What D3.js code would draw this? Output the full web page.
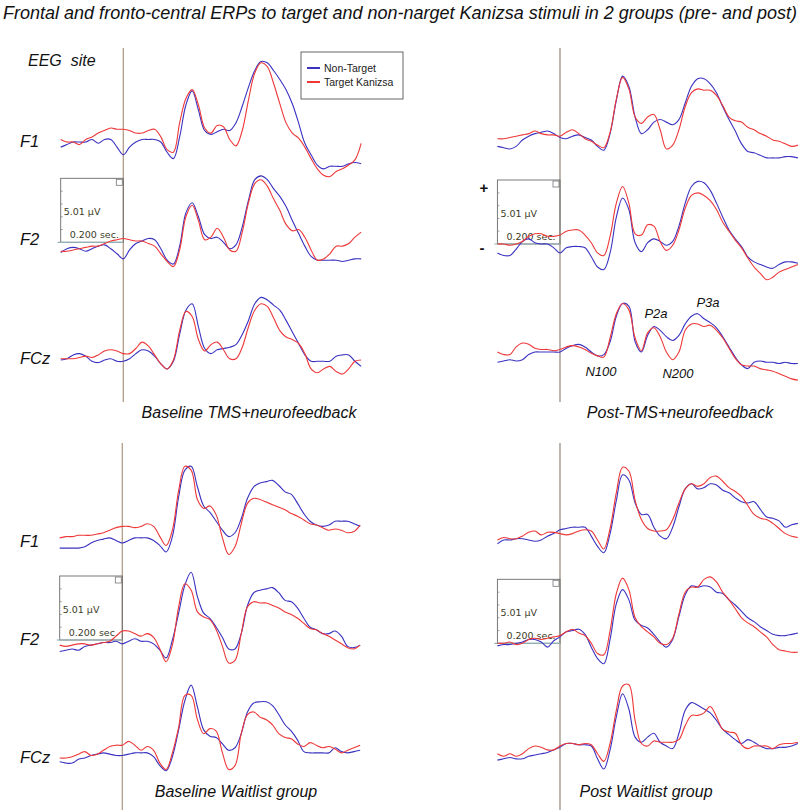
<!DOCTYPE html>
<html>
<head>
<meta charset="utf-8">
<script src="https://cdn.jsdelivr.net/npm/d3@7"></script>
<style>
  body { margin: 0; background: #fff; }
  text { font-family: "Liberation Sans", Arial, sans-serif; }
</style>
</head>
<body>
<div id="chart"></div>
<script>
// ---- data: time (ms) and amplitudes (µV) ----
var times = [-200,-180,-160,-140,-120,-100,-80,-60,-40,-20,0,20,40,60,80,100,120,140,160,180,200,220,240,260,280,300,320,340,360,380,400,420,440,460,480,500,520,540,560,580,600,620,640,660,680,700,720,740,760];

var channels = ["F1", "F2", "FCz"];
var seriesNames = ["Non-Target", "Target Kanizsa"];
var panelTitles = ["Baseline TMS+neurofeedback", "Post-TMS+neurofeedback", "Baseline Waitlist group", "Post Waitlist group"];
var componentLabels = ["N100", "P2a", "N200", "P3a"];

// Baseline TMS+neurofeedback
var tmsPreF1Non  = [-0.3,-0.1,0.1,0.1,0.1,0.3,0.0,0.3,0.3,-0.3,-0.9,-0.3,0.1,0.3,0.3,0.3,0.1,-0.7,-1.2,0.5,3.0,4.1,2.6,1.0,0.7,0.9,1.1,1.0,1.6,2.9,4.4,5.7,6.4,6.3,5.7,5.0,4.2,3.1,1.6,0.0,-0.9,-1.7,-2.0,-1.8,-1.8,-1.8,-1.6,-1.5,-1.6];
var tmsPreF1Tgt  = [0.3,0.1,0.1,-0.1,0.3,0.5,0.8,1.0,1.2,1.1,1.1,1.0,0.8,0.8,1.0,1.1,0.5,-0.5,-0.7,1.6,3.5,4.2,3.0,1.2,0.8,1.4,1.3,0.3,-0.2,1.0,3.4,5.5,6.3,6.0,4.7,3.1,1.6,0.8,0.4,-0.3,-1.2,-2.0,-2.5,-2.6,-2.2,-2.0,-1.7,-1.3,0.0];
var tmsPreF2Non  = [-0.8,-0.5,-0.4,-0.5,-0.7,-0.5,-0.3,-0.2,-0.5,-0.9,-1.3,-0.6,-0.1,0.1,0.3,0.2,-0.5,-1.4,-1.7,-0.3,2.3,3.1,2.0,0.6,0.3,0.4,0.0,-0.5,-0.2,1.2,3.3,4.9,5.2,4.9,4.2,3.6,2.8,1.7,0.7,-0.3,-1.1,-1.4,-1.4,-1.4,-1.4,-1.5,-1.4,-1.3,-1.3];
var tmsPreF2Tgt  = [-0.7,-0.7,-0.6,-0.5,-0.4,-0.3,-0.3,-0.1,0.1,0.2,0.3,0.2,0.1,0.1,-0.1,-0.3,-0.9,-1.5,-1.9,-0.6,2.0,2.9,1.7,0.2,0.4,1.1,0.4,-0.6,-0.7,0.8,3.1,4.6,4.9,4.4,3.4,2.5,1.4,0.9,1.0,0.4,-0.6,-1.4,-1.3,-0.9,-0.3,-0.3,-0.1,0.4,0.8];
var tmsPreFCzNon = [0.0,0.1,0.4,0.5,0.3,-0.1,-0.2,0.0,0.1,-0.1,-0.1,0.1,0.5,0.8,0.7,0.3,-0.3,-0.7,-0.1,2.0,3.9,4.4,2.6,0.9,0.5,0.8,0.9,1.0,1.2,2.0,3.1,4.4,4.9,4.7,4.3,3.9,3.1,2.2,1.3,0.4,-0.1,-0.1,-0.1,-0.1,0.3,0.4,0.4,-0.1,-0.5];
var tmsPreFCzTgt = [0.1,0.1,0.1,0.2,0.3,0.2,0.4,0.7,0.8,0.7,0.5,0.5,0.9,1.4,1.1,0.4,-0.3,-0.7,0.0,2.3,3.8,3.4,1.6,0.7,1.2,1.4,0.8,0.1,0.1,1.0,2.6,3.9,4.4,4.2,3.3,2.3,1.8,1.6,1.3,0.5,-0.7,-1.0,-0.7,-0.5,-0.9,-1.1,-0.7,-0.1,0.0];

// Post-TMS+neurofeedback
var tmsPostF1Non  = [-0.5,-0.6,-0.7,-0.5,0.0,0.3,0.5,0.6,0.7,0.5,0.2,0.1,0.3,0.4,0.2,0.0,-0.5,-0.8,0.5,3.1,5.0,4.2,1.8,0.5,0.8,1.4,1.6,1.4,1.2,1.6,2.9,4.2,4.8,4.8,4.4,3.7,2.6,1.6,0.7,-0.3,-0.9,-1.0,-1.2,-1.4,-1.4,-1.4,-1.3,-1.3,-1.4];
var tmsPostF1Tgt  = [0.1,0.1,0.2,0.3,0.4,0.5,0.7,0.5,0.4,0.4,0.3,0.6,0.8,0.5,0.1,-0.1,-0.4,-0.6,0.6,3.2,4.9,4.0,1.8,1.3,1.8,2.0,0.8,-0.7,-0.4,0.8,2.6,3.7,4.0,3.9,3.9,3.5,2.7,1.8,1.5,1.4,1.0,0.8,0.5,0.3,0.0,-0.1,-0.3,-0.5,-0.4];
var tmsPostF2Non  = [-0.7,-0.9,-0.9,-0.4,0.2,0.4,0.1,0.0,0.0,-0.3,-0.7,-0.3,-0.2,-0.2,-0.3,-1.0,-1.8,-2.0,-0.7,2.1,3.6,2.7,0.1,-0.6,0.1,0.4,0.2,-0.1,0.2,1.4,3.2,4.5,4.9,4.8,4.2,3.2,2.1,1.1,0.4,-0.2,-1.0,-1.4,-1.6,-1.8,-1.9,-1.6,-1.4,-1.4,-1.5];
var tmsPostF2Tgt  = [0.0,0.0,-0.1,0.0,0.2,0.6,0.8,0.8,0.6,0.6,0.7,1.0,1.1,1.1,0.7,0.1,-0.7,-0.9,0.6,3.2,4.5,3.2,0.8,0.7,1.5,1.4,0.2,-0.5,-0.1,1.1,2.8,3.8,4.0,3.8,3.4,2.7,1.7,1.0,0.3,-0.3,-1.1,-1.8,-2.3,-2.8,-2.6,-2.2,-2.0,-1.8,-1.6];
var tmsPostFCzNon = [-0.7,-0.6,-0.5,-0.6,-0.5,-0.1,0.1,0.1,0.1,0.1,0.1,0.4,0.6,0.7,0.5,0.1,-0.2,-0.1,0.9,2.9,3.9,3.7,0.9,0.1,1.4,2.1,1.8,1.3,1.0,1.4,2.3,2.9,3.1,2.7,2.4,2.0,1.3,0.5,-0.3,-0.9,-1.2,-0.7,-0.6,-0.7,-0.7,-0.8,-0.7,-0.8,-0.8];
var tmsPostFCzTgt = [0.1,-0.1,-0.1,0.5,0.8,0.7,0.4,0.3,0.3,0.2,0.3,0.5,0.6,0.5,0.3,0.0,-0.2,-0.3,1.2,3.1,3.9,3.4,1.2,0.2,1.6,2.0,1.3,0.1,-0.5,0.1,1.8,2.3,2.3,2.1,2.2,1.8,1.2,0.4,-0.4,-0.9,-1.0,-1.0,-1.2,-1.3,-1.4,-1.6,-1.8,-2.0,-2.1];

// Baseline Waitlist group
var waitPreF1Non  = [-0.5,-0.5,-0.5,-0.5,-0.4,-0.1,0.1,0.2,0.3,0.1,-0.1,0.1,0.3,0.3,0.3,0.1,-0.3,-0.8,0.4,3.5,5.6,5.9,4.3,2.8,2.3,1.6,0.9,0.4,0.7,1.8,3.4,4.3,4.6,4.7,4.8,4.4,3.9,3.7,3.0,2.2,1.6,1.3,1.2,1.3,1.6,1.6,1.6,1.4,1.2];
var waitPreF1Tgt  = [0.3,0.4,0.4,0.5,0.5,0.5,0.6,0.7,0.9,1.1,1.2,1.2,1.1,1.2,1.4,1.2,0.4,-0.3,0.9,4.0,5.9,5.6,3.3,2.6,2.8,2.1,0.3,-1.0,-0.4,1.4,3.0,3.4,3.3,3.1,2.9,2.7,2.5,2.2,2.0,1.7,1.4,1.3,1.1,0.9,1.0,0.9,0.7,0.8,1.3];
var waitPreF2Non  = [-0.9,-0.8,-0.7,-0.8,-0.5,-0.4,-0.3,-0.2,-0.2,-0.1,-0.3,-0.1,0.1,-0.1,-0.1,-0.3,-0.8,-1.4,0.0,2.1,4.3,5.3,3.4,2.1,1.7,1.0,0.2,-0.7,-0.7,0.5,2.7,3.7,3.9,4.0,4.1,3.7,3.1,3.0,2.5,1.7,1.0,0.8,0.5,0.5,0.7,0.3,-0.5,-0.6,-0.4];
var waitPreF2Tgt  = [-0.4,-0.5,-0.4,-0.3,-0.3,-0.4,-0.3,-0.2,-0.1,0.3,0.7,0.7,0.5,0.3,0.5,0.2,-0.7,-1.7,-0.4,2.6,4.4,3.9,2.2,1.8,1.6,0.8,-0.5,-1.8,-1.6,0.5,2.6,3.0,2.9,2.9,2.7,2.5,2.2,2.0,1.7,1.3,0.9,0.8,0.5,0.3,0.0,-0.3,-0.6,-0.7,-0.4];
var waitPreFCzNon = [-0.4,-0.5,-0.5,-0.2,-0.1,0.1,0.2,0.3,0.2,0.1,0.1,0.2,0.3,0.3,0.3,0.0,-0.7,-1.1,0.0,2.1,4.4,5.6,3.9,2.1,1.6,1.5,1.0,0.5,0.7,1.8,3.5,4.2,4.3,4.3,4.0,3.3,2.5,2.0,1.3,0.4,0.3,0.3,0.3,0.3,0.7,0.4,0.3,0.4,0.5];
var waitPreFCzTgt = [-0.1,-0.1,0.0,0.2,0.4,0.1,0.2,0.5,0.8,0.9,0.9,1.2,0.9,0.5,0.8,0.5,-0.5,-1.0,0.3,2.3,4.8,4.8,2.9,1.8,2.2,2.0,0.3,-1.0,-0.7,1.8,3.3,3.5,3.1,2.9,2.5,1.8,1.5,1.4,1.0,0.8,1.1,0.9,0.7,0.8,0.6,0.3,0.5,0.7,0.9];

// Post Waitlist group
var waitPostF1Non  = [-0.3,0.0,0.0,0.1,0.1,0.0,-0.1,0.0,0.3,0.5,0.8,0.9,1.0,1.0,1.0,0.3,-0.5,-1.0,0.5,3.1,5.1,4.7,2.9,2.0,2.0,1.0,0.3,0.1,1.0,2.6,4.0,4.4,4.0,4.1,4.4,4.3,3.9,3.7,3.3,3.0,2.9,3.0,2.4,1.8,1.7,1.5,1.0,1.2,1.3];
var waitPostF1Tgt  = [0.0,0.2,0.1,0.1,0.3,0.6,0.7,0.4,0.6,0.6,0.5,0.4,0.5,0.7,0.8,0.7,0.0,-0.7,0.9,3.7,5.7,5.4,3.1,1.6,0.9,0.7,0.7,0.8,1.6,2.9,4.0,4.4,4.2,4.4,4.9,5.0,4.6,4.1,3.8,3.4,2.7,2.0,1.7,1.6,1.3,0.9,0.5,0.3,0.2];
var waitPostF2Non  = [-0.2,-0.1,-0.1,0.0,0.1,0.3,0.3,0.1,-0.3,0.2,0.5,0.9,1.0,1.1,0.7,-0.3,-1.2,-1.6,0.3,3.1,4.2,3.4,1.8,1.4,1.2,0.7,0.1,-0.3,0.3,2.1,3.8,4.5,4.4,4.5,4.4,4.0,3.9,3.4,3.0,2.5,2.0,1.7,1.3,1.0,0.7,0.6,0.6,0.7,0.8];
var waitPostF2Tgt  = [0.0,0.0,0.1,-0.1,0.0,0.3,0.4,0.3,0.4,0.5,0.6,0.9,1.1,0.8,0.6,0.0,-0.8,-0.9,1.0,3.9,5.1,4.2,2.0,1.3,0.9,0.5,0.0,-0.1,0.4,2.3,4.0,4.4,4.4,5.0,5.2,4.8,4.0,3.4,2.7,2.0,1.6,1.3,0.9,0.5,-0.1,-0.5,-0.6,-0.7,-0.7];
var waitPostFCzNon = [-0.4,-0.3,-0.2,-0.3,-0.3,-0.1,0.0,0.1,0.2,0.4,0.6,0.9,0.9,0.8,0.8,0.7,-0.3,-1.1,0.4,3.0,4.8,3.6,1.4,1.0,1.4,1.7,1.0,0.7,0.5,1.7,3.5,4.1,3.9,3.6,3.3,2.7,2.0,1.6,1.2,0.9,1.2,1.0,0.7,0.5,0.5,0.6,0.6,0.7,0.9];
var waitPostFCzTgt = [0.1,-0.1,0.1,-0.1,0.1,0.5,0.7,0.6,0.4,0.4,0.7,0.9,0.9,0.8,0.9,0.8,0.1,-0.5,0.9,3.5,5.4,5.5,2.7,0.9,0.7,1.1,1.0,1.0,1.0,1.2,2.3,3.1,3.1,3.3,3.8,3.0,2.0,1.8,1.7,0.8,0.5,0.7,0.7,0.7,0.5,0.8,0.9,0.9,1.0];

// ---- layout ----
var width = 800, height = 810;
var pxPerMs = 0.313;      // 0.200 sec = ~62.6 px
var pxPerUv = 64 / 5.01;  // 5.01 µV = 64 px
var colors = ["#3a32c0", "#ee3838"];

var panels = [
  { onset: 123.3, bases: [143.3, 242.3, 360.0], lineY: [48, 402], lineColor: "#b29c86",
    data: [[tmsPreF1Non, tmsPreF1Tgt], [tmsPreF2Non, tmsPreF2Tgt], [tmsPreFCzNon, tmsPreFCzTgt]],
    title: panelTitles[0], titleX: 249, titleY: 418 },
  { onset: 560.0, bases: [140.0, 244.0, 353.3], lineY: [48, 402], lineColor: "#9a9086",
    data: [[tmsPostF1Non, tmsPostF1Tgt], [tmsPostF2Non, tmsPostF2Tgt], [tmsPostFCzNon, tmsPostFCzTgt]],
    title: panelTitles[1], titleX: 680, titleY: 418 },
  { onset: 122.3, bases: [541.7, 640.0, 756.7], lineY: [443, 810], lineColor: "#b29c86",
    data: [[waitPreF1Non, waitPreF1Tgt], [waitPreF2Non, waitPreF2Tgt], [waitPreFCzNon, waitPreFCzTgt]],
    title: panelTitles[2], titleX: 236, titleY: 797 },
  { onset: 560.0, bases: [540.0, 643.3, 755.0], lineY: [443, 810], lineColor: "#9a9086",
    data: [[waitPostF1Non, waitPostF1Tgt], [waitPostF2Non, waitPostF2Tgt], [waitPostFCzNon, waitPostFCzTgt]],
    title: panelTitles[3], titleX: 646, titleY: 797 }
];

var svg = d3.select("#chart").append("svg")
    .attr("width", width)
    .attr("height", height);

// title
svg.append("text")
    .attr("x", 400).attr("y", 19)
    .attr("text-anchor", "middle")
    .attr("textLength", 794).attr("lengthAdjust", "spacingAndGlyphs")
    .style("font-size", "17.5px").style("font-style", "italic")
    .attr("fill", "#111")
    .text("Frontal and fronto-central ERPs to target and non-narget Kanizsa stimuli in 2 groups (pre- and post)");

svg.append("text")
    .attr("x", 28).attr("y", 66)
    .style("font-size", "16px").style("font-style", "italic")
    .style("white-space", "pre")
    .attr("fill", "#111")
    .text("EEG  site");

// channel labels (left)
var labelY = [[147, 245, 364], [547, 645, 763]];
labelY.forEach(function(row) {
  row.forEach(function(y, i) {
    svg.append("text")
        .attr("x", 20).attr("y", y)
        .style("font-size", "16.5px").style("font-style", "italic")
        .attr("fill", "#111")
        .text(channels[i]);
  });
});

panels.forEach(function(p) {
  var x = d3.scaleLinear()
      .domain([-200, 760])
      .range([p.onset - 200 * pxPerMs, p.onset + 760 * pxPerMs]);

  var g = svg.append("g");

  // stimulus onset line
  g.append("line")
      .attr("x1", x(0)).attr("x2", x(0))
      .attr("y1", p.lineY[0]).attr("y2", p.lineY[1])
      .attr("stroke", p.lineColor).attr("stroke-width", 1.3);

  // calibration box drawn at the F2 row
  var yb = d3.scaleLinear().domain([0, 5.01]).range([p.bases[1], p.bases[1] - 5.01 * pxPerUv]);
  var bx0 = x(-200), bx1 = x(0), by0 = yb(5.01), by1 = yb(0);
  var box = g.append("g");
  box.append("rect")
      .attr("x", bx0).attr("y", by0)
      .attr("width", bx1 - bx0).attr("height", by1 - by0)
      .attr("fill", "none").attr("stroke", "#6a6a6a").attr("stroke-width", 0.9);
  box.append("rect")
      .attr("x", bx1 - 7).attr("y", by0 + 1)
      .attr("width", 6).attr("height", 6)
      .attr("fill", "none").attr("stroke", "#777").attr("stroke-width", 0.8);
  box.selectAll(".tk")
      .data(d3.range(1, 5))
      .enter().append("line")
      .attr("x1", bx0).attr("x2", bx0 + 2)
      .attr("y1", function(d) { return yb(d); })
      .attr("y2", function(d) { return yb(d); })
      .attr("stroke", "#888").attr("stroke-width", 0.8);
  box.append("line")
      .attr("x1", bx0 - 3).attr("x2", bx1)
      .attr("y1", by1).attr("y2", by1)
      .attr("stroke", "#8fb0b4").attr("stroke-width", 1.2);
  box.append("text")
      .attr("x", bx0 + 3).attr("y", by0 + 37)
      .style("font-family", "'DejaVu Sans', sans-serif").style("font-size", "9.5px")
      .attr("fill", "#3c3c26")
      .text("5.01 \u00b5V");
  box.append("text")
      .attr("x", bx0 + 9).attr("y", by1 - 4)
      .style("font-family", "'DejaVu Sans', sans-serif").style("font-size", "9.5px")
      .attr("fill", "#3c3c26")
      .text("0.200 sec.");

  // waveforms
  p.data.forEach(function(pair, ci) {
    var y = d3.scaleLinear().domain([0, 5]).range([p.bases[ci], p.bases[ci] - 5 * pxPerUv]);
    var line = d3.line()
        .x(function(d, i) { return x(times[i]); })
        .y(function(d) { return y(d); })
        .curve(d3.curveCatmullRom.alpha(0.5));
    pair.forEach(function(vals, si) {
      g.append("path")
          .datum(vals)
          .attr("d", line)
          .attr("fill", "none")
          .attr("stroke", colors[si])
          .attr("stroke-width", 1.1);
    });
  });

  g.append("text")
      .attr("x", p.titleX).attr("y", p.titleY)
      .attr("text-anchor", "middle")
      .style("font-size", "16px").style("font-style", "italic")
      .attr("fill", "#111")
      .text(p.title);
});

// polarity marks (post TMS panel)
svg.append("text").attr("x", 484).attr("y", 193).attr("text-anchor", "middle")
    .style("font-size", "15px").style("font-weight", "bold").attr("fill", "#111").text("+");
svg.append("text").attr("x", 482).attr("y", 253).attr("text-anchor", "middle")
    .style("font-size", "15px").style("font-weight", "bold").attr("fill", "#111").text("-");

// component labels (post TMS, FCz)
var compPos = [[601, 376], [656, 318], [678, 378], [708, 307]];
componentLabels.forEach(function(t, i) {
  svg.append("text")
      .attr("x", compPos[i][0]).attr("y", compPos[i][1])
      .attr("text-anchor", "middle")
      .style("font-size", "13px").style("font-style", "italic")
      .attr("fill", "#111")
      .text(t);
});

// legend
var lg = svg.append("g");
lg.append("rect")
    .attr("x", 301).attr("y", 52).attr("width", 102).attr("height", 47)
    .attr("fill", "#fff").attr("stroke", "#666").attr("stroke-width", 1);
seriesNames.forEach(function(name, i) {
  var yy = 68 + i * 14;
  lg.append("line")
      .attr("x1", 307).attr("x2", 320).attr("y1", yy).attr("y2", yy)
      .attr("stroke", colors[i]).attr("stroke-width", 2);
  lg.append("text")
      .attr("x", 324).attr("y", yy + 4)
      .style("font-size", "10.5px").attr("fill", "#222")
      .text(name);
});
</script>
</body>
</html>
